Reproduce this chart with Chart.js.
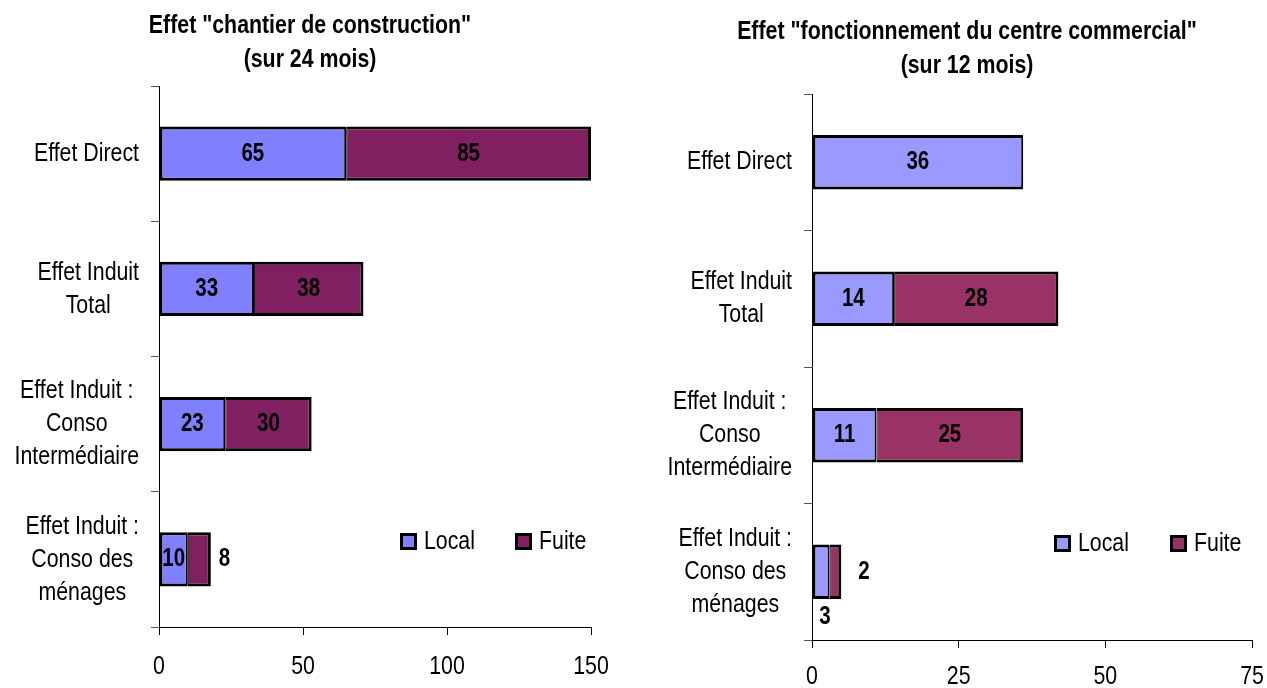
<!DOCTYPE html>
<html>
<head>
<meta charset="utf-8">
<script src="https://cdn.jsdelivr.net/npm/chart.js@4.4.1/dist/chart.umd.min.js"></script>
<style>
    body { margin: 0; background: #fff; }
    .bloc { position: absolute; top: 0; height: 688px; }
</style>
</head>
<body>
<div class="bloc" style="left:0px;width:620px;"><canvas id="grapChantier"></canvas></div>
<div class="bloc" style="left:640px;width:627px;"><canvas id="grapCentre"></canvas></div>
<script>
// categories (une ligne par element du tableau)
const categories = [
    ['Effet Direct'],
    ['Effet Induit', 'Total'],
    ['Effet Induit :', 'Conso', 'Intermédiaire'],
    ['Effet Induit :', 'Conso des', 'ménages']
];
const series = ['Local', 'Fuite'];

// chantier de construction (24 mois)
const chantierLocal = [65, 33, 23, 10];
const chantierFuite = [85, 38, 30, 8];
const ticksChantier = [0, 50, 100, 150];

// fonctionnement du centre commercial (12 mois)
const centreLocal = [36, 14, 11, 3];
const centreFuite = [0, 28, 25, 2];
const ticksCentre = [0, 25, 50, 75];

const police = "'Liberation Sans', Arial, sans-serif";
const ETROIT = 0.82; // police "narrow" : on compresse en largeur
Chart.defaults.font.family = police;
Chart.defaults.color = '#000';

//ecrit un texte compresse horizontalement
function texteEtroit(ctx, txt, x, y) {
    ctx.save();
    ctx.translate(x, y);
    ctx.scale(ETROIT, 1);
    ctx.fillText(txt, 0, 0);
    ctx.restore();
}
function largeurEtroit(ctx, txt) {
    return ctx.measureText(txt).width * ETROIT;
}

//titre sur deux lignes
const titreHaut = {
    id: 'titreHaut',
    afterDraw(chart, args, opts) {
        const ctx = chart.ctx;
        ctx.save();
        ctx.font = 'bold 26px ' + police;
        ctx.fillStyle = '#000';
        ctx.textAlign = 'center';
        ctx.textBaseline = 'middle';
        opts.text.forEach((l, k) => texteEtroit(ctx, l, opts.x, opts.y + k * 34));
        ctx.restore();
    }
};

//etiquettes de l'axe Y : lignes centrees entre elles, bloc aligne a droite
const etiquettesY = {
    id: 'etiquettesY',
    afterDraw(chart) {
        const ctx = chart.ctx;
        const yScale = chart.scales.y;
        const right = chart.chartArea.left - 20;
        const lh = 33;
        ctx.save();
        ctx.font = '26px ' + police;
        ctx.fillStyle = '#000';
        ctx.textAlign = 'center';
        ctx.textBaseline = 'middle';
        chart.data.labels.forEach(function(lignes, i) {
            let maxW = 0;
            lignes.forEach(l => maxW = Math.max(maxW, largeurEtroit(ctx, l)));
            const cx = right - maxW / 2;
            const cy = yScale.getPixelForValue(i);
            for (let k = 0; k < lignes.length; k++) {
                texteEtroit(ctx, lignes[k], cx, cy + (k - (lignes.length - 1) / 2) * lh);
            }
        });
        ctx.restore();
    }
};

//graduations de l'axe X
const etiquettesX = {
    id: 'etiquettesX',
    afterDraw(chart, args, opts) {
        const ctx = chart.ctx;
        const xScale = chart.scales.x;
        ctx.save();
        ctx.font = '26px ' + police;
        ctx.fillStyle = '#000';
        ctx.textAlign = 'center';
        ctx.textBaseline = 'middle';
        xScale.ticks.forEach(t => texteEtroit(ctx, String(t.value), xScale.getPixelForValue(t.value), xScale.top + opts.dy));
        ctx.restore();
    }
};

//valeurs ecrites sur les barres
const valeursBarres = {
    id: 'valeursBarres',
    afterDatasetsDraw(chart, args, opts) {
        const ctx = chart.ctx;
        const place = opts.place || {};
        ctx.save();
        ctx.font = 'bold 25px ' + police;
        ctx.fillStyle = '#000';
        ctx.textBaseline = 'middle';
        chart.data.datasets.forEach(function(ds, d) {
            const meta = chart.getDatasetMeta(d);
            meta.data.forEach(function(bar, i) {
                const v = ds.data[i];
                if (!v) return;
                const p = (place[d] || {})[i];
                const x0 = Math.min(bar.x, bar.base), x1 = Math.max(bar.x, bar.base);
                if (p && p.pos === 'right') {
                    ctx.textAlign = 'left';
                    texteEtroit(ctx, String(v), x1 + p.dx, bar.y);
                } else if (p && p.pos === 'below') {
                    ctx.textAlign = 'center';
                    texteEtroit(ctx, String(v), (x0 + x1) / 2 + (p.dx || 0), bar.y + bar.height / 2 + p.dy);
                } else {
                    ctx.textAlign = 'center';
                    texteEtroit(ctx, String(v), (x0 + x1) / 2, bar.y);
                }
            });
        });
        ctx.restore();
    }
};

//legende dans la zone du graphique
const legendeBas = {
    id: 'legendeBas',
    afterDraw(chart, args, opts) {
        const ctx = chart.ctx;
        const a = chart.chartArea;
        let x = a.left + opts.x;
        const y = a.bottom + opts.y;
        ctx.save();
        ctx.font = '26px ' + police;
        ctx.textBaseline = 'middle';
        ctx.textAlign = 'left';
        chart.data.datasets.forEach(function(ds, d) {
            ctx.fillStyle = ds.backgroundColor;
            ctx.fillRect(x, y, 17, 17);
            ctx.strokeStyle = '#000';
            ctx.lineWidth = 3;
            ctx.strokeRect(x + 1.5, y + 1.5, 14, 14);
            ctx.fillStyle = '#000';
            texteEtroit(ctx, ds.label, x + 24, y + 9);
            x += opts.pas;
        });
        ctx.restore();
    }
};

function crearGrafico(id, cfg) {
    const ctx = document.getElementById(id).getContext('2d');
    return new Chart(ctx, {
        type: 'bar',
        data: {
            labels: categories,
            datasets: [{
                label: series[0],
                data: cfg.local,
                backgroundColor: cfg.couleurs[0],
                borderColor: '#000',
                borderWidth: { top: 3, bottom: 3, left: 3, right: 2 },
                borderSkipped: false,
                categoryPercentage: 0.5,
                barPercentage: 0.8
            }, {
                label: series[1],
                data: cfg.fuite,
                backgroundColor: cfg.couleurs[1],
                borderColor: '#000',
                borderWidth: { top: 3, bottom: 3, left: 1, right: 3 },
                borderSkipped: false,
                categoryPercentage: 0.5,
                barPercentage: 0.8
            }]
        },
        options: {
            indexAxis: 'y',
            responsive: true,
            maintainAspectRatio: false,
            animation: false,
            layout: { padding: { left: 0, right: cfg.padDroite, top: cfg.padHaut, bottom: 0 } },
            scales: {
                x: {
                    stacked: true,
                    min: 0,
                    max: cfg.ticks[cfg.ticks.length - 1],
                    border: { color: '#000', width: 1 },
                    grid: { drawOnChartArea: false, tickLength: 8, color: '#000' },
                    ticks: { display: false },
                    afterBuildTicks: s => { s.ticks = cfg.ticks.map(v => ({ value: v })); },
                    afterFit: s => { s.height = cfg.hautX; }
                },
                y: {
                    stacked: true,
                    border: { color: '#000', width: 1 },
                    grid: { drawOnChartArea: false, tickLength: 8, color: '#555' },
                    ticks: { display: false },
                    afterFit: s => { s.width = cfg.largY; }
                }
            },
            plugins: {
                legend: { display: false },
                tooltip: { enabled: false },
                title: { display: false },
                titreHaut: cfg.titre,
                etiquettesX: { dy: cfg.dyTicks },
                valeursBarres: { place: cfg.place },
                legendeBas: cfg.legende
            }
        },
        plugins: [titreHaut, etiquettesY, etiquettesX, valeursBarres, legendeBas]
    });
}

const grapChantier = crearGrafico('grapChantier', {
    titre: { text: ['Effet "chantier de construction"', '(sur 24 mois)'], x: 310, y: 26 },
    local: chantierLocal,
    fuite: chantierFuite,
    ticks: ticksChantier,
    couleurs: ['#8080FF', '#802060'],
    padDroite: 29,
    padHaut: 86,
    dyTicks: 40,
    hautX: 61,
    largY: 159,
    place: { 1: { 3: { pos: 'right', dx: 8 } } },
    legende: { x: 241, y: -94, pas: 115 }
});

const grapCentre = crearGrafico('grapCentre', {
    titre: { text: ['Effet "fonctionnement du centre commercial"', '(sur 12 mois)'], x: 327, y: 32 },
    local: centreLocal,
    fuite: centreFuite,
    ticks: ticksCentre,
    couleurs: ['#9999FF', '#993366'],
    padDroite: 15,
    padHaut: 94,
    dyTicks: 37,
    hautX: 48,
    largY: 172,
    place: { 0: { 3: { pos: 'below', dy: 18, dx: 4 } }, 1: { 3: { pos: 'right', dx: 17 } } },
    legende: { x: 242, y: -105, pas: 116 }
});
</script>
</body>
</html>
